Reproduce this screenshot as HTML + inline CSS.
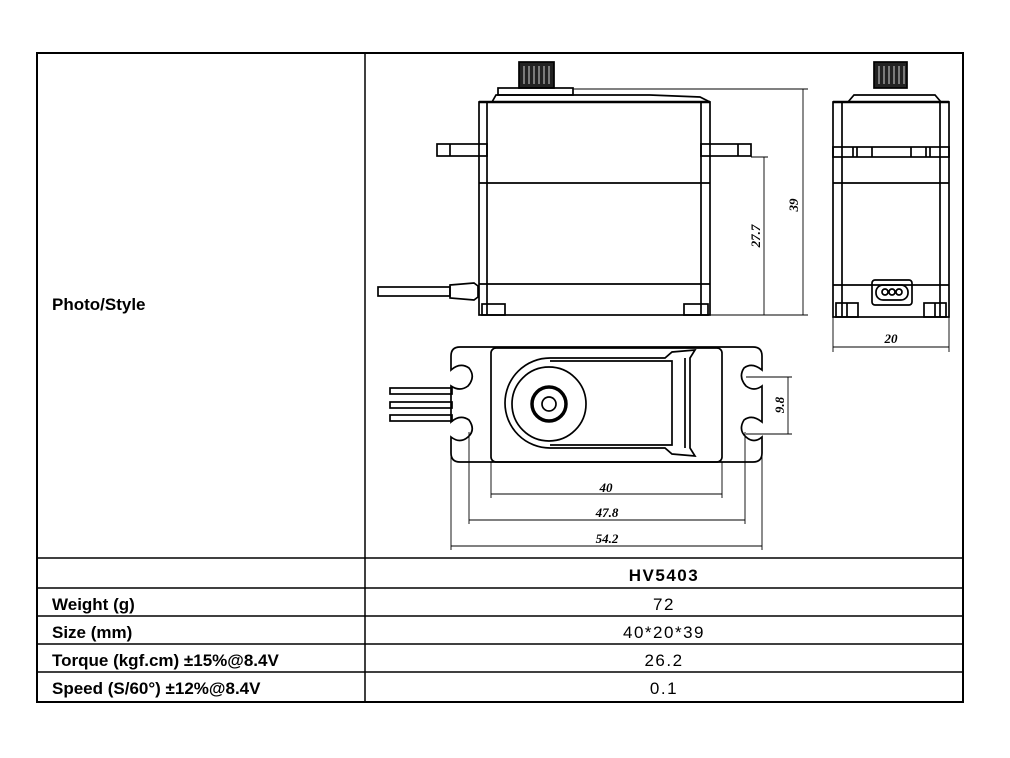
<!DOCTYPE html>
<html><head><style>
body{margin:0;background:#fff;width:1010px;height:758px;overflow:hidden}
svg{position:absolute;left:0;top:0}
.t{font-family:"Liberation Sans",Arial,sans-serif;font-size:17px}
.b{font-weight:bold}
.d{font-family:"Liberation Serif",serif;font-style:italic;font-weight:bold;font-size:13px}
</style></head><body>
<svg width="1010" height="758" viewBox="0 0 1010 758">
<g stroke="#000" fill="none" stroke-width="1.5">
<rect x="37" y="53" width="926" height="649" stroke-width="2"/>
<line x1="365" y1="53" x2="365" y2="702"/>
<line x1="37" y1="558" x2="963" y2="558"/>
<line x1="37" y1="588" x2="963" y2="588"/>
<line x1="37" y1="616" x2="963" y2="616"/>
<line x1="37" y1="644" x2="963" y2="644"/>
<line x1="37" y1="672" x2="963" y2="672"/>
</g>
<g class="t">
<text x="52" y="310" class="b">Photo/Style</text>
<text x="52" y="610" class="b">Weight (g)</text>
<text x="52" y="638" class="b">Size (mm)</text>
<text x="52" y="666" class="b">Torque (kgf.cm) ±15%@8.4V</text>
<text x="52" y="694" class="b">Speed (S/60°) ±12%@8.4V</text>
<g text-anchor="middle" letter-spacing="1.5">
<text x="664" y="581" class="b">HV5403</text>
<text x="664" y="610">72</text>
<text x="664" y="638">40*20*39</text>
<text x="664" y="666">26.2</text>
<text x="664" y="694">0.1</text>
</g></g>
<!-- side view -->
<g stroke="#000" fill="none" stroke-width="1.7">
<rect x="519" y="62" width="35" height="26" fill="#222"/>
<g stroke="#fff" stroke-width="0.8"><line x1="524" y1="66" x2="524" y2="84"/><line x1="529" y1="66" x2="529" y2="84"/><line x1="534" y1="66" x2="534" y2="84"/><line x1="539" y1="66" x2="539" y2="84"/><line x1="544" y1="66" x2="544" y2="84"/><line x1="549" y1="66" x2="549" y2="84"/></g>
<rect x="498" y="88" width="75" height="7"/>
<path d="M492 102 L496 95 L650 95 L700 97 L710 102"/>
<line x1="479" y1="102" x2="710" y2="102" stroke-width="2.5"/>
<rect x="479" y="102" width="231" height="213"/>
<line x1="487" y1="102" x2="487" y2="315"/><line x1="701" y1="102" x2="701" y2="315"/>
<rect x="437" y="144" width="50" height="12"/><line x1="450" y1="144" x2="450" y2="156"/>
<rect x="701" y="144" width="50" height="12"/><line x1="738" y1="144" x2="738" y2="156"/>
<line x1="479" y1="183" x2="710" y2="183"/><line x1="479" y1="284" x2="710" y2="284"/>
<rect x="482" y="304" width="23" height="11"/><rect x="684" y="304" width="24" height="11"/>
<rect x="378" y="287" width="72" height="9"/>
<path d="M450 285 L474 283 L478 286 L478 297 L474 300 L450 298 Z"/>
<g stroke-width="0.9"><line x1="573" y1="89" x2="808" y2="89"/><line x1="710" y1="315" x2="808" y2="315"/><line x1="751" y1="157" x2="768" y2="157"/>
<line x1="803" y1="89" x2="803" y2="315"/><line x1="764" y1="157" x2="764" y2="315"/></g>
</g>
<text class="d" transform="translate(798,205) rotate(-90)" text-anchor="middle">39</text>
<text class="d" transform="translate(760,236) rotate(-90)" text-anchor="middle">27.7</text>
<!-- front view -->
<g stroke="#000" fill="none" stroke-width="1.7">
<rect x="874" y="62" width="33" height="26" fill="#222"/>
<g stroke="#fff" stroke-width="0.8"><line x1="879" y1="66" x2="879" y2="84"/><line x1="884" y1="66" x2="884" y2="84"/><line x1="889" y1="66" x2="889" y2="84"/><line x1="894" y1="66" x2="894" y2="84"/><line x1="899" y1="66" x2="899" y2="84"/><line x1="904" y1="66" x2="904" y2="84"/></g>
<path d="M848 102 L854 95 L935 95 L941 102"/>
<line x1="833" y1="102" x2="949" y2="102" stroke-width="2.5"/>
<rect x="833" y="102" width="116" height="215"/>
<line x1="842" y1="102" x2="842" y2="317"/><line x1="940" y1="102" x2="940" y2="317"/>
<rect x="833" y="147" width="116" height="10"/>
<line x1="853" y1="147" x2="853" y2="157"/><line x1="857" y1="147" x2="857" y2="157"/><line x1="872" y1="147" x2="872" y2="157"/><line x1="911" y1="147" x2="911" y2="157"/><line x1="926" y1="147" x2="926" y2="157"/><line x1="930" y1="147" x2="930" y2="157"/>
<line x1="833" y1="183" x2="949" y2="183"/><line x1="833" y1="285" x2="949" y2="285"/>
<rect x="872" y="280" width="40" height="25" rx="3"/><rect x="876" y="285" width="32" height="15" rx="7"/>
<circle cx="885" cy="292" r="3"/><circle cx="892" cy="292" r="3"/><circle cx="899" cy="292" r="3"/>
<rect x="836" y="303" width="22" height="14"/><line x1="847" y1="303" x2="847" y2="317"/>
<rect x="924" y="303" width="22" height="14"/><line x1="935" y1="303" x2="935" y2="317"/>
<g stroke-width="0.9"><line x1="833" y1="317" x2="833" y2="352"/><line x1="949" y1="317" x2="949" y2="352"/><line x1="833" y1="347" x2="949" y2="347"/></g>
</g>
<text class="d" x="891" y="343" text-anchor="middle">20</text>
<!-- top view -->
<g stroke="#000" fill="none" stroke-width="1.7">
<path d="M460 347 L753 347 Q762 347 762 356 L762 370 Q752 362 744 368 Q738 377 746 386 Q754 392 762 386 L762 422 Q752 414 744 420 Q738 430 746 437 Q754 444 762 437 L762 453 Q762 462 753 462 L460 462 Q451 462 451 453 L451 437 Q460 444 468 437 Q476 430 469 420 Q460 414 451 422 L451 386 Q460 392 468 386 Q476 377 469 368 Q460 362 451 370 L451 356 Q451 347 460 347 Z"/>
<rect x="491" y="348" width="231" height="114" rx="5"/>
<path d="M550 358 L665 358 L672 352 L695 350 L690 358 L690 448 L695 456 L672 454 L665 448 L550 448 A45 45 0 0 1 550 358 Z"/>
<path d="M550 361 L670 361 L672 361 L672 445 L550 445"/>
<line x1="685" y1="358" x2="685" y2="448"/>
<circle cx="549" cy="404" r="37"/>
<circle cx="549" cy="404" r="17" stroke-width="3.5"/>
<circle cx="549" cy="404" r="7"/>
<rect x="390" y="388" width="62" height="6"/><rect x="390" y="402" width="62" height="6"/><rect x="390" y="415" width="62" height="6"/>
<g stroke-width="0.9">
<line x1="491" y1="462" x2="491" y2="498"/><line x1="722" y1="462" x2="722" y2="498"/><line x1="491" y1="494" x2="722" y2="494"/>
<line x1="469" y1="432" x2="469" y2="524"/><line x1="745" y1="432" x2="745" y2="524"/><line x1="469" y1="520" x2="745" y2="520"/>
<line x1="451" y1="440" x2="451" y2="550"/><line x1="762" y1="440" x2="762" y2="550"/><line x1="451" y1="546" x2="762" y2="546"/>
<line x1="746" y1="377" x2="792" y2="377"/><line x1="746" y1="434" x2="792" y2="434"/><line x1="788" y1="377" x2="788" y2="434"/>
</g></g>
<g class="d" text-anchor="middle">
<text x="606" y="492">40</text><text x="607" y="517">47.8</text><text x="607" y="543">54.2</text>
</g>
<text class="d" transform="translate(784,405) rotate(-90)" text-anchor="middle">9.8</text>
</svg>
</body></html>
